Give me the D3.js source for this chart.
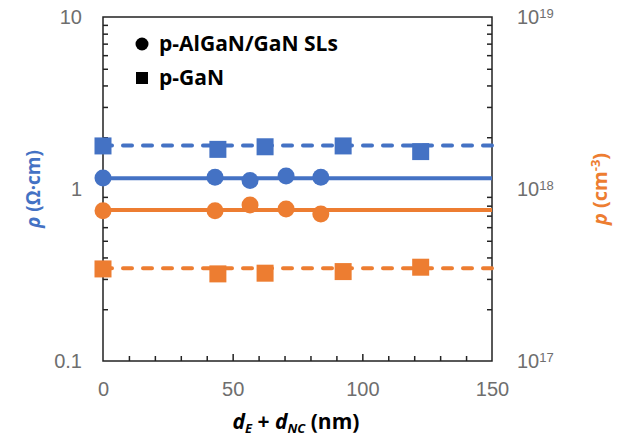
<!DOCTYPE html>
<html>
<head>
<meta charset="utf-8">
<script src="https://cdn.jsdelivr.net/npm/d3@7"></script>
<style>
  body { margin: 0; background: #fff; }
  svg { font-family: "Open Sans", "Noto Sans", sans-serif; }
  .tick text { fill: #6e6e6e; font-size: 20px; font-weight: 300; }
</style>
</head>
<body>
<svg id="chart" width="618" height="443"></svg>
<script>
const xSL = [0, 43.2, 56.7, 70.6, 84];
const rhoSL = [1.16, 1.17, 1.12, 1.19, 1.17];
const pSL = [7.48e17, 7.48e17, 8.07e17, 7.65e17, 7.16e17];

const xGaN = [0, 44.3, 62.5, 92.6, 122.5];
const rhoGaN = [1.78, 1.70, 1.76, 1.78, 1.65];
const pGaN = [3.43e17, 3.21e17, 3.24e17, 3.31e17, 3.51e17];

// flat guide lines (averages)
const fitRange = [0, 150];
const rhoSLFit = 1.154;
const rhoGaNFit = 1.79;
const pSLFit = 7.55e17;
const pGaNFit = 3.46e17;

const xTicks = [0, 50, 100, 150];
const rhoTicks = [0.1, 1, 10];
const pTicks = [1e17, 1e18, 1e19];

const blue = '#4472C4';
const orange = '#ED7D31';

const margin = { top: 17, right: 126, bottom: 82, left: 103 };
const width = 618 - margin.left - margin.right;
const height = 443 - margin.top - margin.bottom;

const svg = d3.select('#chart')
  .append('g')
  .attr('transform', `translate(${margin.left},${margin.top})`);

const xScale = d3.scaleLinear().domain([0, 150]).range([0, width]);
const yRho = d3.scaleLog().domain([0.1, 10]).range([height, 0]);
const yP = d3.scaleLog().domain([1e17, 1e19]).range([height, 0]);

// minor log ticks
const logMinor = (lo, hi) => {
  const out = [];
  for (let d = lo; d < hi; d *= 10) {
    for (let k = 2; k <= 9; k++) out.push(d * k);
  }
  return out;
};

// frame
svg.append('rect')
  .attr('width', width)
  .attr('height', height)
  .attr('fill', 'none')
  .attr('stroke', '#222')
  .attr('stroke-width', 1.5);

// x ticks (inward)
svg.append('g')
  .attr('transform', `translate(0,${height})`)
  .call(d3.axisBottom(xScale).tickValues(d3.range(10, 150, 10)).tickSize(-5).tickFormat(''))
  .call(g => g.select('.domain').remove())
  .call(g => g.selectAll('.tick line').attr('stroke', '#222').attr('stroke-width', 1.5)
    .attr('y2', d => d % 50 === 0 ? -7 : -5));

svg.append('g')
  .attr('transform', `translate(0,${height})`)
  .call(d3.axisBottom(xScale).tickValues(xTicks).tickSize(0).tickPadding(21))
  .call(g => g.select('.domain').remove());

// left y ticks
svg.append('g')
  .call(d3.axisLeft(yRho).tickValues(logMinor(0.1, 10)).tickSize(-5).tickFormat(''))
  .call(g => g.select('.domain').remove())
  .call(g => g.selectAll('.tick line').attr('stroke', '#222').attr('stroke-width', 1.5));

svg.append('g')
  .call(d3.axisLeft(yRho).tickValues(rhoTicks).tickSize(0).tickPadding(21).tickFormat(d3.format('~g')))
  .call(g => g.select('.domain').remove());

// right y ticks
svg.append('g')
  .attr('transform', `translate(${width},0)`)
  .call(d3.axisRight(yP).tickValues(logMinor(1e17, 1e19)).tickSize(-5).tickFormat(''))
  .call(g => g.select('.domain').remove())
  .call(g => g.selectAll('.tick line').attr('stroke', '#222').attr('stroke-width', 1.5));

svg.append('g')
  .attr('transform', `translate(${width},0)`)
  .call(d3.axisRight(yP).tickValues(pTicks).tickSize(0).tickPadding(25))
  .call(g => g.select('.domain').remove())
  .call(g => g.selectAll('.tick text').each(function(d) {
    const t = d3.select(this).text('');
    t.append('tspan').text('10');
    t.append('tspan').attr('dy', '-0.45em').attr('font-size', '13px')
      .text(Math.round(Math.log10(d)));
  }));

// guide lines
const hline = (val, scale, color, dashed) => {
  svg.append('path')
    .datum(fitRange)
    .attr('fill', 'none')
    .attr('stroke', color)
    .attr('stroke-width', 4)
    .attr('stroke-linecap', dashed ? 'round' : 'butt')
    .attr('stroke-dasharray', dashed ? '9,11' : null)
    .attr('d', d3.line().x(d => xScale(d)).y(() => scale(val)));
};
hline(rhoGaNFit, yRho, blue, true);
hline(rhoSLFit, yRho, blue, false);
hline(pSLFit, yP, orange, false);
hline(pGaNFit, yP, orange, true);

// markers
const circles = (xs, vs, scale, color) => {
  svg.append('g').selectAll('circle')
    .data(xs.map((x, i) => [x, vs[i]]))
    .join('circle')
    .attr('cx', d => xScale(d[0]))
    .attr('cy', d => scale(d[1]))
    .attr('r', 8.5)
    .attr('fill', color);
};
const squares = (xs, vs, scale, color) => {
  const s = 17;
  svg.append('g').selectAll('rect')
    .data(xs.map((x, i) => [x, vs[i]]))
    .join('rect')
    .attr('x', d => xScale(d[0]) - s / 2)
    .attr('y', d => scale(d[1]) - s / 2)
    .attr('width', s)
    .attr('height', s)
    .attr('fill', color);
};
squares(xGaN, rhoGaN, yRho, blue);
circles(xSL, rhoSL, yRho, blue);
circles(xSL, pSL, yP, orange);
squares(xGaN, pGaN, yP, orange);

// legend
const legend = d3.select('#chart').append('g');
legend.append('circle').attr('cx', 142).attr('cy', 44).attr('r', 6.5).attr('fill', '#000');
legend.append('text').attr('x', 159).attr('y', 51)
  .attr('font-size', '21px').attr('font-weight', 'bold').text('p-AlGaN/GaN SLs');
legend.append('rect').attr('x', 136).attr('y', 72).attr('width', 12).attr('height', 12).attr('fill', '#000');
legend.append('text').attr('x', 159).attr('y', 85)
  .attr('font-size', '21px').attr('font-weight', 'bold').text('p-GaN');

// axis titles
const xt = d3.select('#chart').append('text')
  .attr('x', 296).attr('y', 429)
  .attr('text-anchor', 'middle')
  .attr('font-size', '21px').attr('font-weight', 'bold');
xt.append('tspan').attr('font-style', 'italic').text('d');
xt.append('tspan').attr('font-style', 'italic').attr('font-size', '13px').attr('dy', '4').text('E');
xt.append('tspan').attr('dy', '-4').text(' + ');
xt.append('tspan').attr('font-style', 'italic').text('d');
xt.append('tspan').attr('font-style', 'italic').attr('font-size', '13px').attr('dy', '4').text('NC');
xt.append('tspan').attr('dy', '-4').text(' (nm)');

const yl = d3.select('#chart').append('text')
  .attr('transform', 'translate(40,189) rotate(-90)')
  .attr('text-anchor', 'middle')
  .attr('fill', blue)
  .attr('font-size', '19px').attr('font-weight', 'bold');
yl.append('tspan').attr('font-style', 'italic').text('ρ');
yl.append('tspan').text(' (Ω·cm)');

const yr = d3.select('#chart').append('text')
  .attr('transform', 'translate(607,189) rotate(-90)')
  .attr('text-anchor', 'middle')
  .attr('fill', orange)
  .attr('font-size', '20px').attr('font-weight', 'bold');
yr.append('tspan').attr('font-style', 'italic').text('p');
yr.append('tspan').text(' (cm');
yr.append('tspan').attr('font-size', '13px').attr('dy', '-7').text('-3');
yr.append('tspan').attr('dy', '7').text(')');
</script>
</body>
</html>
